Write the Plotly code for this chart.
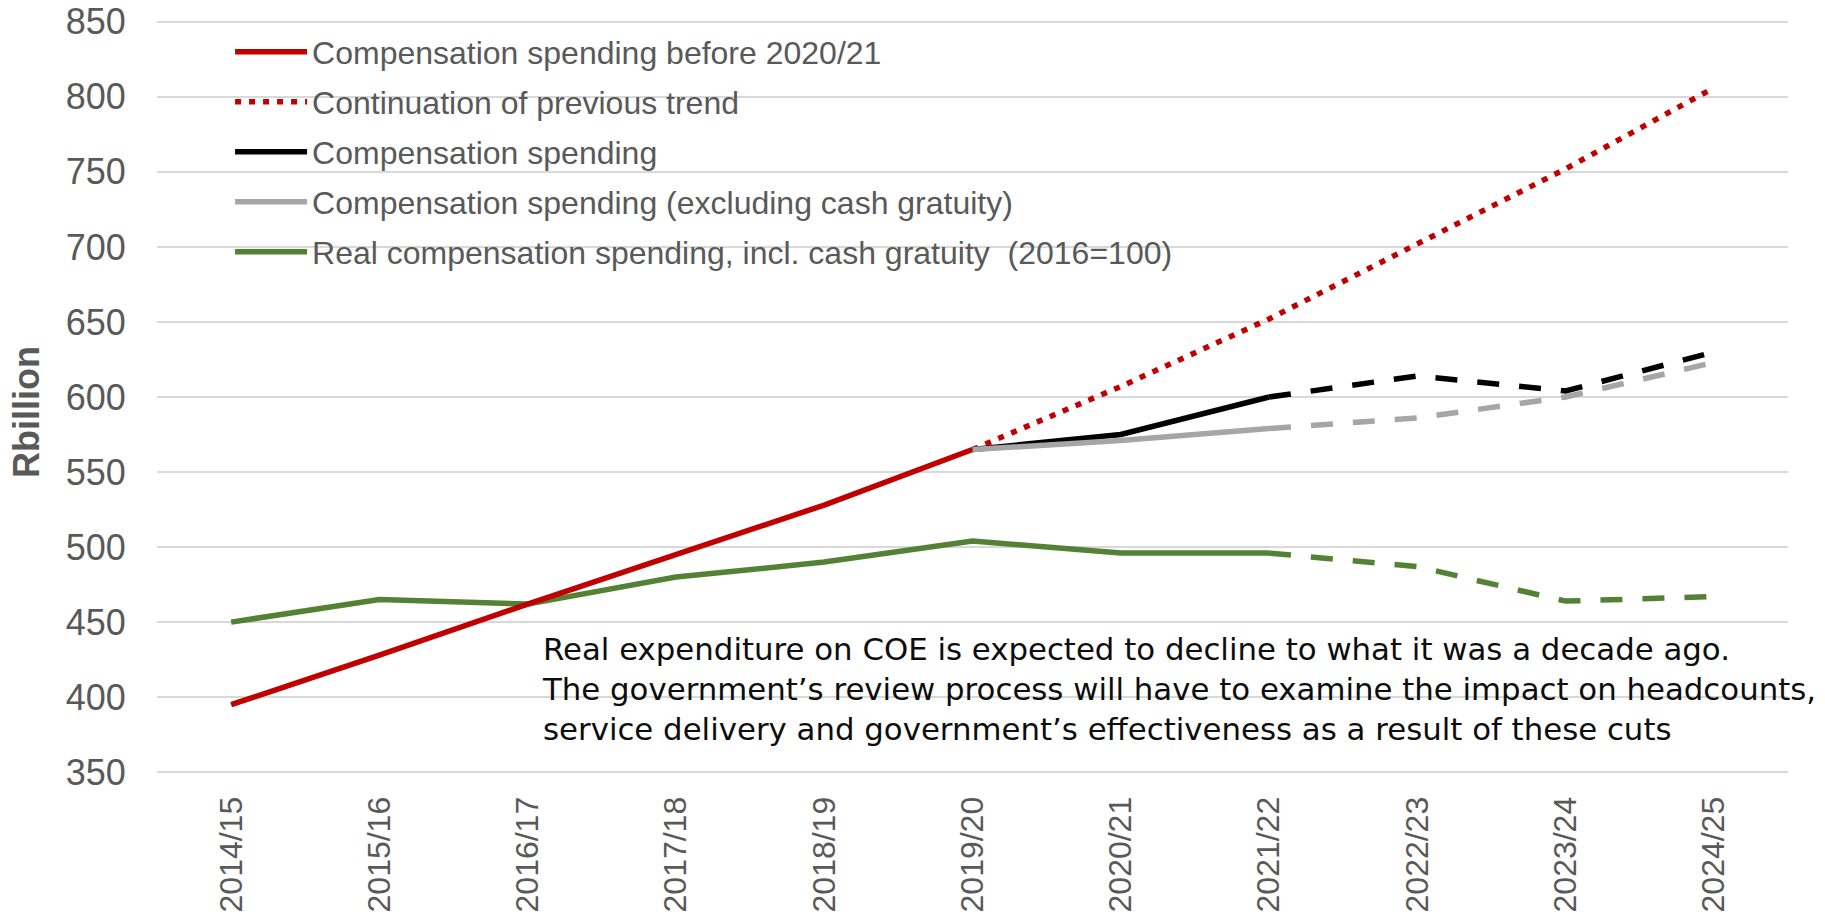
import plotly.graph_objects as go

years = ["2014/15", "2015/16", "2016/17", "2017/18", "2018/19", "2019/20",
         "2020/21", "2021/22", "2022/23", "2023/24", "2024/25"]

comp_before = [395, 428, 462, 495, 528, 565, None, None, None, None, None]
trend = [None, None, None, None, None, 565, 607, 652, 702, 752, 806]
comp = [None, None, None, None, None, 565, 575, 600, None, None, None]
comp_proj = [None, None, None, None, None, None, None, 600, 614, 604, 630]
comp_ex = [None, None, None, None, None, 565, 571, 579, None, None, None]
comp_ex_proj = [None, None, None, None, None, None, None, 579, 586, 600, 623]
real = [450, 465, 462, 480, 490, 504, 496, 496, None, None, None]
real_proj = [None, None, None, None, None, None, None, 496, 487, 464, 467]

y_ticks = [350, 400, 450, 500, 550, 600, 650, 700, 750, 800, 850]

names = [
    "Compensation spending before 2020/21",
    "Continuation of previous trend",
    "Compensation spending",
    "Compensation spending (excluding cash gratuity)",
    "Real compensation spending, incl. cash gratuity  (2016=100)",
]

RED = "#C00000"
BLACK = "#000000"
GRAY = "#A6A6A6"
GREEN = "#548235"
LW = 5.5
DASH = "22px,20px"
DOT = "6px,8px"

fig = go.Figure()

fig.add_trace(go.Scatter(x=years, y=real, mode="lines", name=names[4],
                         line=dict(color=GREEN, width=LW), legendgroup="g5",
                         legendrank=5))
fig.add_trace(go.Scatter(x=years, y=real_proj, mode="lines", name=names[4],
                         line=dict(color=GREEN, width=LW, dash=DASH), legendgroup="g5",
                         showlegend=False))
fig.add_trace(go.Scatter(x=years, y=comp_before, mode="lines", name=names[0],
                         line=dict(color=RED, width=LW), legendgroup="g1", legendrank=1))
fig.add_trace(go.Scatter(x=years, y=trend, mode="lines", name=names[1],
                         line=dict(color=RED, width=LW, dash=DOT), legendgroup="g2", legendrank=2))
fig.add_trace(go.Scatter(x=years, y=comp, mode="lines", name=names[2],
                         line=dict(color=BLACK, width=LW), legendgroup="g3", legendrank=3))
fig.add_trace(go.Scatter(x=years, y=comp_proj, mode="lines", name=names[2],
                         line=dict(color=BLACK, width=LW, dash=DASH), legendgroup="g3",
                         showlegend=False))
fig.add_trace(go.Scatter(x=years, y=comp_ex, mode="lines", name=names[3],
                         line=dict(color=GRAY, width=LW), legendgroup="g4", legendrank=4))
fig.add_trace(go.Scatter(x=years, y=comp_ex_proj, mode="lines", name=names[3],
                         line=dict(color=GRAY, width=LW, dash=DASH), legendgroup="g4",
                         showlegend=False))

TXT = "#595959"
PAD = 1.2
PXU = 1.5
fig.update_layout(
    width=1817, height=908,
    margin=dict(l=149, r=37, t=14 - PAD * PXU, b=144 - PAD * PXU, autoexpand=False),
    paper_bgcolor="white", plot_bgcolor="white",
    font=dict(family="Liberation Sans, Arial, sans-serif", color=TXT),
    showlegend=True,
    legend=dict(
        x=0.0448, y=0.994, xanchor="left", yanchor="top",
        bgcolor="rgba(0,0,0,0)", borderwidth=0,
        font=dict(size=32, color=TXT, family="Liberation Sans, Arial, sans-serif"),
        itemwidth=72, traceorder="grouped", tracegroupgap=5.4,
    ),
    xaxis=dict(
        type="category", categoryorder="array", categoryarray=years,
        range=[-0.5, len(years) - 0.5], automargin=False,
        tickangle=-90, tickfont=dict(size=32, color=TXT),
        ticks="outside", ticklen=9, tickcolor="rgba(0,0,0,0)",
        showgrid=False, showline=False, zeroline=False,
    ),
    yaxis=dict(
        range=[y_ticks[0] - PAD, y_ticks[-1] + PAD], tickmode="array", tickvals=y_ticks,
        automargin=False, ticklabeloverflow="allow",
        tickfont=dict(size=36, color=TXT),
        ticks="outside", ticklen=23, tickcolor="rgba(0,0,0,0)",
        showgrid=True, gridcolor="#D9D9D9", gridwidth=2,
        showline=False, zeroline=False,
    ),
    annotations=[
        dict(text="<b>Rbillion</b>", xref="paper", yref="paper",
             x=(26 - 157) / 1631, y=(772 - 412) / 750, xanchor="center", yanchor="middle",
             textangle=-90, showarrow=False,
             font=dict(size=36, color=TXT, family="Liberation Sans, Arial, sans-serif")),
        dict(text="Real expenditure on COE is expected to decline to what it was a decade ago.<br>"
                  "The government’s review process will have to examine the impact on headcounts,<br>"
                  "service delivery and government’s effectiveness as a result of these cuts",
             xref="paper", yref="paper", x=(540 - 157) / 1631, y=(772 - 628) / 750,
             xanchor="left", yanchor="top", align="left", showarrow=False,
             font=dict(size=30.8, color="#0D0D0D", family="DejaVu Sans")),
    ],
)

fig.write_html("out.html")
